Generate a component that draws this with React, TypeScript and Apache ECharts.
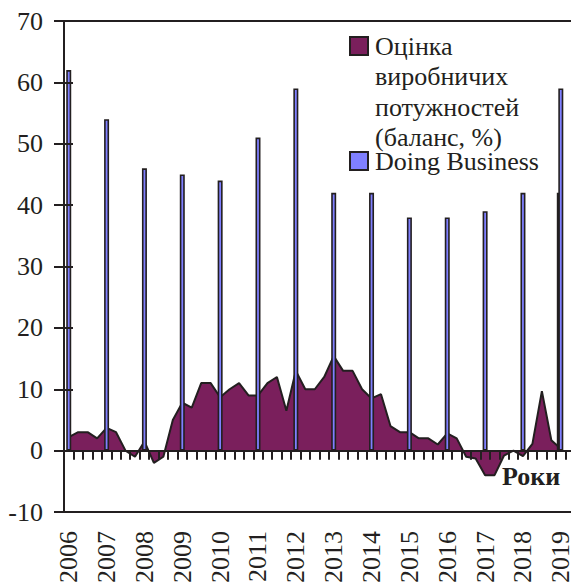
import React, { useEffect, useRef } from "react";
import * as echarts from "echarts";

const years = [2006, 2007, 2008, 2009, 2010, 2011, 2012, 2013, 2014, 2015, 2016, 2017, 2018, 2019];
const quarters = ["I", "II", "III", "IV"];
const quarterCount = 54;

// Оцінка виробничих потужностей (баланс, %) — quarterly, 2006 Q1 .. 2019 Q1
const capacity = [
  2.2, 3, 3, 2,
  3.7, 3, 0, -1,
  1.5, -2, -1, 5,
  7.8, 7, 11, 11,
  8.7, 10, 11, 9,
  9, 11, 12, 6.5,
  13, 10, 10, 12,
  15.4, 13, 13, 10,
  8.5, 9.2, 4, 3,
  3, 2, 2, 1,
  2.8, 2, -1, -1.3,
  -4, -4, -0.8, 0,
  -0.9, 1.1, 9.7, 1.7,
  0.3,
];

// Doing Business — one value per year (first quarter)
const doingBusiness = [62, 54, 46, 45, 44, 51, 59, 42, 42, 38, 38, 39, 42, 59];
// faint extra bar visible beside the 2019 bar
const extraBarIndex = 52;
const extraBarValue = 42;

const yTicks = { min: -10, max: 70, interval: 10 };

const seriesNames = ["Оцінка\nвиробничих\nпотужностей\n(баланс, %)", "Doing Business"];
const axisName = "Роки";

const INK = "#231F20";
const PURPLE = "#7A1F5C";
const BLUE = "#7F7FFF";
const FONT = "'Liberation Serif', 'Times New Roman', serif";

export default function App() {
  const ref = useRef<HTMLDivElement>(null);

  useEffect(() => {
    if (!ref.current) return;
    const chart = echarts.init(ref.current, undefined, { renderer: "svg" });

    const categories: string[] = [];
    for (let i = 0; i < quarterCount; i++) {
      const y = years[0] + Math.floor(i / 4);
      categories.push(`${y} ${quarters[i % 4]}`);
    }
    const dbData = categories.map((_, i) => (i % 4 === 0 ? doingBusiness[i / 4] ?? null : null));
    const extraData = categories.map((_, i) => (i === extraBarIndex ? extraBarValue : null));
    const emptyData = categories.map(() => null);

    const gridRect = { left: 64, top: 21, width: 511, height: 491 };

    chart.setOption({
      animation: false,
      grid: [
        { ...gridRect, containLabel: false },
        { ...gridRect, containLabel: false },
      ],
      xAxis: [
        {
          type: "category",
          gridIndex: 0,
          data: categories,
          boundaryGap: true,
          position: "bottom",
          z: 5,
          axisLine: { show: true, onZero: true, lineStyle: { color: INK, width: 2 } },
          axisTick: { show: true, interval: 0, length: 9, lineStyle: { color: INK, width: 2 } },
          axisLabel: { show: false },
          splitLine: { show: false },
        },
        {
          type: "category",
          gridIndex: 0,
          data: categories,
          position: "top",
          z: 5,
          axisLine: { show: true, onZero: false, lineStyle: { color: INK, width: 2 } },
          axisTick: { show: false },
          axisLabel: { show: false },
        },
        {
          type: "category",
          gridIndex: 1,
          data: categories,
          boundaryGap: true,
          position: "bottom",
          z: 5,
          axisLine: { show: true, onZero: false, lineStyle: { color: INK, width: 2 } },
          axisTick: { show: false },
          axisLabel: {
            show: true,
            rotate: 90,
            interval: (i: number) => i % 4 === 0,
            formatter: (v: string) => v.split(" ")[0],
            margin: 19,
            color: INK,
            fontFamily: FONT,
            fontSize: 26,
          },
        },
      ],
      yAxis: [
        {
          type: "value",
          gridIndex: 0,
          ...yTicks,
          z: 5,
          axisLine: { show: true, onZero: false, lineStyle: { color: INK, width: 2 } },
          axisTick: { show: true, length: 10, lineStyle: { color: INK, width: 2 } },
          axisLabel: { color: INK, fontFamily: FONT, fontSize: 26, margin: 21 },
          splitLine: { show: false },
        },
        {
          type: "value",
          gridIndex: 1,
          ...yTicks,
          z: 5,
          axisLine: { show: false, onZero: false },
          axisTick: { show: true, inside: true, length: 9, lineStyle: { color: INK, width: 2 } },
          axisLabel: { show: false },
          splitLine: { show: false },
        },
      ],
      series: [
        {
          name: seriesNames[0],
          type: "line",
          xAxisIndex: 0,
          yAxisIndex: 0,
          data: capacity,
          symbol: "none",
          lineStyle: { color: INK, width: 2 },
          areaStyle: { color: PURPLE, opacity: 1 },
          itemStyle: { color: PURPLE },
          z: 1,
        },
        {
          name: "extra",
          type: "bar",
          xAxisIndex: 2,
          yAxisIndex: 1,
          data: extraData,
          barWidth: 3,
          barGap: "67%",
          itemStyle: { color: BLUE, borderColor: INK, borderWidth: 1.5 },
          z: 2,
        },
        {
          name: "spacer",
          type: "bar",
          xAxisIndex: 2,
          yAxisIndex: 1,
          data: emptyData,
          barWidth: 3,
          barGap: "67%",
          z: 2,
        },
        {
          name: seriesNames[1],
          type: "bar",
          xAxisIndex: 0,
          yAxisIndex: 0,
          data: dbData,
          barWidth: 5,
          itemStyle: { color: BLUE, borderColor: INK, borderWidth: 1.6 },
          z: 3,
        },
      ],
      graphic: [
        {
          type: "rect",
          shape: { x: 350, y: 37, width: 18, height: 18 },
          style: { fill: PURPLE, stroke: INK, lineWidth: 2 },
          z: 10,
        },
        {
          type: "text",
          x: 375,
          y: 31,
          style: {
            text: seriesNames[0],
            font: `26px ${FONT}`,
            lineHeight: 30.5,
            fill: INK,
            verticalAlign: "top",
          },
          z: 10,
        },
        {
          type: "rect",
          shape: { x: 350, y: 152, width: 18, height: 18 },
          style: { fill: BLUE, stroke: INK, lineWidth: 2 },
          z: 10,
        },
        {
          type: "text",
          x: 375,
          y: 146,
          style: {
            text: seriesNames[1],
            font: `26px ${FONT}`,
            lineHeight: 30.5,
            fill: INK,
            verticalAlign: "top",
          },
          z: 10,
        },
        {
          type: "text",
          x: 502,
          y: 461,
          style: {
            text: axisName,
            font: `bold 26px ${FONT}`,
            lineHeight: 30.5,
            fill: INK,
            verticalAlign: "top",
          },
          z: 10,
        },
      ],
    });

    return () => chart.dispose();
  }, []);

  return (
    <div
      style={{
        position: "fixed",
        left: 0,
        top: 0,
        width: 571,
        height: 587,
        overflow: "hidden",
        background: "#fff",
      }}
    >
      <div ref={ref} style={{ width: 580, height: 587 }} />
    </div>
  );
}
